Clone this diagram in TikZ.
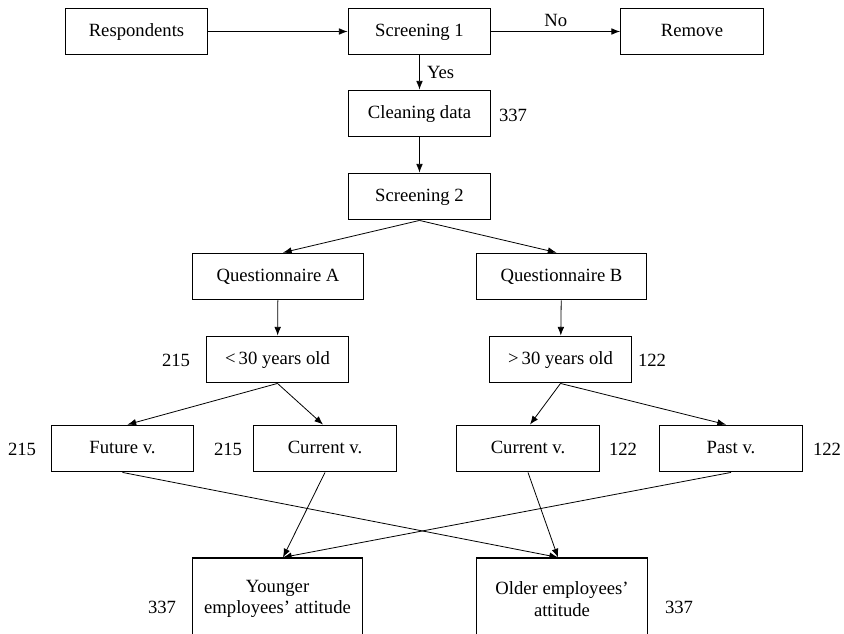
\documentclass[tikz,border=0pt]{standalone}
\usepackage{fontspec}
\setmainfont{Liberation Serif}
\usetikzlibrary{arrows.meta,shapes}
\tikzstyle{block}=[rectangle,draw,line width=0.9pt,minimum width=107pt,minimum height=35pt,inner sep=2pt,text height=10pt,text depth=2.5pt]
\tikzstyle{wideblock}=[block,minimum width=128pt]
\tikzstyle{tallblock}=[rectangle,draw,line width=0.9pt,minimum width=128pt,minimum height=61.5pt,inner sep=2pt,align=center]
\tikzstyle{count}=[inner sep=0pt]
\tikzstyle{edge}=[draw,line width=0.6pt,-{Latex[length=6.5pt,width=5pt]}]

\begin{document}
\begin{tikzpicture}[x=0.75pt,y=-0.75pt,font=\fontsize{14}{16}\selectfont]
    \useasboundingbox (0,0) rectangle (844,634);
    \clip (0,0) rectangle (844,634);
    % First we draw the boxes
    \foreach \pos/\name/\txt in {{(136.5,31.5)/resp/Respondents}, {(419.5,31.5)/scr1/Screening 1},
        {(692,31.5)/remove/Remove}, {(419.5,113.5)/clean/Cleaning data}, {(419.5,196.5)/scr2/Screening 2},
        {(277.5,359.5)/under/<\,30 years old}, {(560.5,359.5)/over/>\,30 years old},
        {(122.5,448.5)/fut/Future v.}, {(325,448.5)/cura/Current v.},
        {(528,448.5)/curb/Current v.}, {(731,448.5)/past/Past v.}}
        \node[block] (\name) at \pos {\txt};
    \foreach \pos/\name/\txt in {{(278,276.5)/qa/Questionnaire A}, {(561.5,276.5)/qb/Questionnaire B}}
        \node[wideblock] (\name) at \pos {\txt};
    \node[tallblock] (ya) at (277.5,599) {Younger\\employees’ attitude};
    \node[tallblock] (oa) at (562,599) {Older employees’\\attitude};
    % Sample sizes
    \foreach \pos/\name/\txt in {{(513,115)/nclean/337}, {(176,360)/nunder/215}, {(652,360)/nover/122},
        {(22,449)/nfut/215}, {(228,449)/ncura/215}, {(623,449)/ncurb/122}, {(827,449)/npast/122},
        {(162,607)/nya/337}, {(679,607)/noa/337}}
        \node[count] (\name) at \pos {\txt};
    % Connect boxes with edges
    \path[edge] (resp) -- (scr1);
    \path[edge] (scr1) -- node[above] {No} (remove);
    \path[edge] (scr1) -- node[right,xshift=2pt] {Yes} (clean);
    \foreach \source/\dest in {clean/scr2, qa/under, qb/over}
        \path[edge] (\source) -- (\dest);
    \foreach \source/\dest/\shift in {scr2/qa/5, scr2/qb/-5, under/fut/5, under/cura/-2,
        over/curb/2, over/past/-5, fut/oa/-4, cura/ya/5.5, curb/oa/-4, past/ya/5.5}
        \path[edge] (\source.south) -- ([xshift=\shift*0.75pt]\dest.north);
\end{tikzpicture}
\end{document}
